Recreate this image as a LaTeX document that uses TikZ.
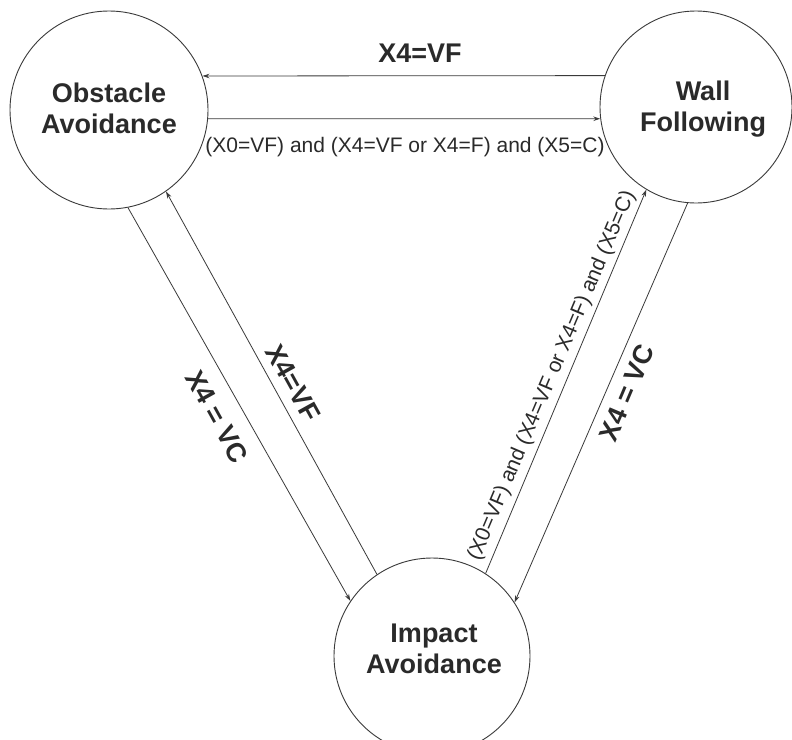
\documentclass[tikz,border=0pt]{standalone}
\usepackage{fontspec}
\setmainfont{Liberation Sans}
\usetikzlibrary{arrows.meta}
\definecolor{textc}{HTML}{2A2A2A}
\definecolor{linec}{HTML}{3A3A3A}
\begin{document}
\begin{tikzpicture}[x=1pt,y=-1pt,
  state/.style={draw=linec, line width=0.9pt, circle, inner sep=0pt},
  statetext/.style={font=\fontsize{27}{31}\selectfont\bfseries, align=center, text=textc},
  trans/.style={draw=linec, line width=0.8pt, -{Stealth[length=7pt,width=4.5pt]}},
  biglab/.style={font=\fontsize{27}{31}\selectfont\bfseries, text=textc, inner sep=0pt},
  smalllab/.style={font=\fontsize{21}{25}\selectfont, text=textc, inner sep=0pt},
]
\useasboundingbox[fill=white] (0,0) rectangle (792,739);

\node[state, minimum size=198pt,
      label={[statetext, yshift=2pt]center:{Obstacle\\Avoidance}}] (oa) at (109,110) {};
\node[state, minimum size=192pt,
      label={[statetext, xshift=7pt, yshift=-2pt]center:{Wall\\Following}}] (wf) at (696,107) {};
\node[state, minimum size=196pt,
      label={[statetext, xshift=2pt, yshift=7pt]center:{Impact\\Avoidance}}] (ia) at (432,656) {};

% horizontal transitions
\draw[trans] (wf.161) -- (oa.20);
\draw[trans] (oa.-5) -- (wf.187);
% left pair
\draw[trans] (oa.-79) -- (ia.146);
\draw[trans] (ia.124) -- (oa.-55);
% right pair
\draw[trans] (ia.57) -- (wf.239);
\draw[trans] (wf.265) -- (ia.33);

% labels
\node[biglab] (lt) at (420,53.5) {X4=VF};
\node[smalllab] (lb) at (405,147.5) {(X0=VF) and (X4=VF or X4=F) and (X5=C)};
\node[biglab, rotate=-61] (ll1) at (217,417) {X4 = VC};
\node[biglab, rotate=-61] (ll2) at (293,383) {X4=VF};
\node[smalllab, rotate=67] (lr1) at (552,376) {(X0=VF) and (X4=VF or X4=F) and (X5=C)};
\node[biglab, rotate=67] (lr2) at (627,393) {X4 = VC};
\end{tikzpicture}
\end{document}
